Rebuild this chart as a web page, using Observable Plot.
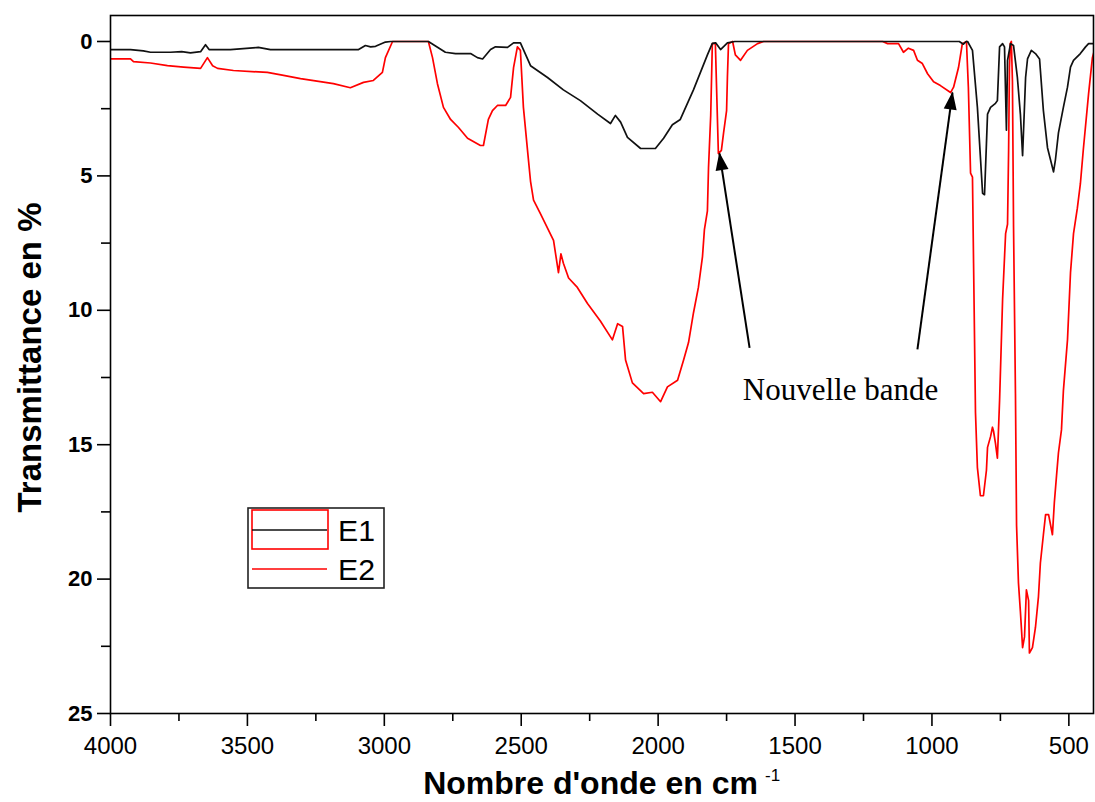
<!DOCTYPE html>
<html><head><meta charset="utf-8">
<script src="https://cdn.jsdelivr.net/npm/d3@7"></script>
<script src="https://cdn.jsdelivr.net/npm/@observablehq/plot@0.6"></script>
<style>body{margin:0;background:#fff;} #chart{position:relative;width:1095px;height:802px;}</style>
</head><body><div id="chart"></div>
<script>
const xTicks = [4000,3500,3000,2500,2000,1500,1000,500];
const xMinorTicks = [3750,3250,2750,2250,1750,1250,750];
const yTicks = [0,5,10,15,20,25];
const yMinorTicks = [2.5,7.5,12.5,17.5,22.5];
const seriesNames = ["E1","E2"];
const seriesColors = ["#111111","#ff0000"];

// [wavenumber (cm-1), transmittance value]
const e1Points = [[4000,0.3],[3927,0.3],[3880,0.35],[3854,0.4],[3781,0.4],[3740,0.38],[3708,0.42],[3671,0.38],[3653,0.12],[3640,0.3],[3562,0.3],[3460,0.22],[3416,0.3],[3094,0.3],[3069,0.15],[3050,0.2],[3032,0.18],[2996,0.02],[2977,0],[2839,0],[2800,0.25],[2777,0.4],[2740,0.45],[2685,0.45],[2660,0.6],[2641,0.65],[2612,0.3],[2594,0.2],[2550,0.22],[2528,0.05],[2503,0.05],[2466,0.9],[2404,1.34],[2346,1.8],[2284,2.2],[2221,2.7],[2174,3.05],[2156,2.75],[2137,3.0],[2112,3.57],[2064,3.98],[2010,3.98],[1980,3.6],[1948,3.1],[1919,2.9],[1871,1.8],[1820,0.5],[1802,0.07],[1790,0.05],[1772,0.3],[1747,0.05],[1720,0],[900,0],[885,0.1],[875,0],[870,0],[852,0.33],[834,2.45],[826,3.8],[815,5.65],[808,5.7],[801,3.8],[797,2.7],[786,2.45],[768,2.3],[761,2.2],[753,0.2],[742,0.08],[735,0.2],[728,3.3],[724,0.7],[713,0.08],[702,0.15],[688,1.34],[677,2.7],[669,4.25],[658,1.34],[651,0.65],[637,0.33],[622,0.45],[607,0.65],[593,2.57],[578,3.95],[567,4.4],[556,4.85],[549,4.4],[538,3.4],[520,2.45],[505,1.7],[494,0.95],[483,0.7],[458,0.45],[439,0.2],[428,0.08],[406,0.08]];

const e2Points = [[4000,0.65],[3927,0.65],[3916,0.75],[3854,0.8],[3792,0.9],[3733,0.95],[3671,1.0],[3646,0.6],[3627,0.9],[3609,1.0],[3551,1.08],[3427,1.15],[3368,1.26],[3306,1.38],[3186,1.57],[3124,1.72],[3076,1.52],[3040,1.45],[3007,1.15],[2996,0.6],[2970,0],[2839,0],[2824,0.6],[2806,1.57],[2784,2.45],[2758,2.9],[2729,3.2],[2696,3.6],[2649,3.87],[2638,3.87],[2620,2.9],[2605,2.57],[2587,2.38],[2557,2.38],[2539,2.08],[2528,0.97],[2514,0.2],[2503,0.33],[2492,2.45],[2477,4.05],[2466,5.2],[2455,5.9],[2430,6.4],[2382,7.4],[2364,8.6],[2355,7.9],[2346,8.25],[2327,8.8],[2295,9.15],[2258,9.75],[2211,10.4],[2167,11.1],[2148,10.5],[2130,10.6],[2119,11.85],[2094,12.7],[2053,13.1],[2021,13.05],[1991,13.4],[1966,12.85],[1929,12.6],[1907,11.85],[1889,11.2],[1871,10.1],[1853,9.15],[1838,8.0],[1831,7.0],[1820,6.3],[1816,4.7],[1808,2.75],[1802,0.08],[1791,0.08],[1783,3.05],[1780,4.17],[1769,4.05],[1761,3.4],[1750,2.57],[1747,1.34],[1743,0.08],[1728,0],[1718,0.5],[1699,0.7],[1674,0.33],[1637,0.08],[1615,0],[1180,0],[1162,0.08],[1122,0.08],[1104,0.4],[1086,0.25],[1067,0.33],[1053,0.7],[1035,0.82],[1016,1.2],[994,1.5],[969,1.64],[932,1.9],[921,1.7],[903,0.97],[889,0.08],[874,0],[867,1.7],[859,4.9],[852,5.05],[848,8.25],[841,13.8],[834,15.85],[823,16.9],[812,16.9],[801,15.95],[797,15.1],[786,14.7],[779,14.35],[775,14.5],[768,14.95],[761,15.5],[757,14.45],[753,13.35],[742,9.6],[731,7.15],[724,6.8],[720,4.05],[717,0.97],[714,0.08],[710,0],[706,1.5],[702,6.9],[695,13.1],[691,18.0],[684,20.15],[677,21.2],[669,22.55],[662,22.15],[655,20.4],[647,20.8],[644,22.75],[633,22.55],[622,21.8],[611,20.65],[604,19.4],[593,18.35],[585,17.6],[574,17.6],[560,18.35],[553,17.15],[545,16.15],[538,15.3],[527,14.45],[520,13.0],[505,11.1],[494,8.6],[483,7.15],[469,6.2],[458,5.3],[447,4.0],[428,1.95],[414,0.6],[406,0.3]];

// annotation: arrows (tail -> tip) and label, in data units
const arrowTails = [[1666,11.4],[1053,11.45]];
const arrowTips = [[1776,4.16],[925,1.9]];
const annotationLabels = [[1334,12.98,"Nouvelle bande"]];

const xTitle = "Nombre d'onde en cm";
const xTitleSup = "-1";
const yTitle = "Transmittance en %";

const arrows = arrowTails.map((t,i)=>({x1:t[0],y1:t[1],x2:arrowTips[i][0],y2:arrowTips[i][1]}));

function filledHead(color, context) {
  const doc = (context && context.document) || document;
  const ns = "http://www.w3.org/2000/svg";
  const m = doc.createElementNS(ns, "marker");
  m.setAttribute("viewBox", "-18 -7 19 14");
  m.setAttribute("markerWidth", "19");
  m.setAttribute("markerHeight", "14");
  m.setAttribute("markerUnits", "userSpaceOnUse");
  m.setAttribute("orient", "auto");
  m.setAttribute("overflow", "visible");
  const p = doc.createElementNS(ns, "path");
  p.setAttribute("d", "M-17,-6.5L1,0L-17,6.5Z");
  p.setAttribute("fill", "black");
  p.setAttribute("stroke", "none");
  m.appendChild(p);
  return m;
}

const FONT = "'Liberation Sans', Arial, sans-serif";

const plot = Plot.plot({
  width: 1095, height: 802,
  marginLeft: 110, marginRight: 2, marginTop: 15, marginBottom: 89,
  style: {fontFamily: FONT, background: "white", color: "black"},
  x: {domain: [4000, 410]},
  y: {domain: [-0.967, 25], reverse: true},
  marks: [
    Plot.line(e2Points, {x: d => d[0], y: d => d[1], stroke: seriesColors[1], strokeWidth: 1.7, clip: true}),
    Plot.line(e1Points, {x: d => d[0], y: d => d[1], stroke: seriesColors[0], strokeWidth: 1.7, clip: true}),
    Plot.frame({stroke: "black", strokeWidth: 1.6}),
    Plot.axisX({ticks: xTicks, tickSize: 13, tickPadding: 10, fontSize: 24, tickFormat: d => String(d), label: null, strokeWidth: 1.6}),
    Plot.axisX({ticks: xMinorTicks, tickSize: 8, tickFormat: () => "", label: null, strokeWidth: 1.6}),
    Plot.axisY({ticks: yTicks, tickSize: 13, tickPadding: 5, fontSize: 22, fontWeight: "bold", tickFormat: d => String(d), label: null, strokeWidth: 1.6}),
    Plot.axisY({ticks: yMinorTicks, tickSize: 9, tickFormat: () => "", label: null, strokeWidth: 1.6}),
    Plot.link(arrows, {x1: "x1", y1: "y1", x2: "x2", y2: "y2", stroke: "black", strokeWidth: 2, markerEnd: filledHead}),
    Plot.text(annotationLabels, {x: d => d[0], y: d => d[1], text: d => d[2], fontFamily: "'Liberation Serif', 'Times New Roman', serif", fontSize: 31, fill: "black"}),
    Plot.text([yTitle], {text: d => d, frameAnchor: "left", textAnchor: "middle", lineAnchor: "middle", rotate: -90, dx: -80, dy: -7, fontSize: 33, fontWeight: "bold", fill: "black"}),
    Plot.text([xTitle], {text: d => d, frameAnchor: "bottom", textAnchor: "middle", lineAnchor: "middle", dx: -11.5, dy: 70, fontSize: 32, fontWeight: "bold", fill: "black"}),
    Plot.text([xTitleSup], {text: d => d, frameAnchor: "bottom", textAnchor: "start", lineAnchor: "middle", dx: 163, dy: 62, fontSize: 17, fill: "black"})
  ]
});
document.getElementById("chart").appendChild(plot);

// legend inside the plot area
const svg = d3.select(plot);
const lg = svg.append("g").attr("class", "legend").attr("text-anchor", "start");
lg.append("rect").attr("x", 248).attr("y", 508).attr("width", 136).attr("height", 80)
  .attr("fill", "white").attr("stroke", "#222").attr("stroke-width", 1.6);
lg.append("rect").attr("x", 252).attr("y", 510).attr("width", 76).attr("height", 39)
  .attr("fill", "none").attr("stroke", seriesColors[1]).attr("stroke-width", 1.6);
const legendRows = [530, 569];
seriesNames.forEach((name, i) => {
  lg.append("line").attr("x1", 252).attr("x2", 327).attr("y1", legendRows[i]).attr("y2", legendRows[i])
    .attr("stroke", seriesColors[i]).attr("stroke-width", 1.7);
  lg.append("text").attr("x", 338).attr("y", legendRows[i] + 11).attr("font-size", 30)
    .attr("font-family", FONT).attr("fill", "black").attr("text-anchor", "start")
    .attr("textLength", 37).attr("lengthAdjust", "spacingAndGlyphs").text(name);
});
</script>
</body></html>
